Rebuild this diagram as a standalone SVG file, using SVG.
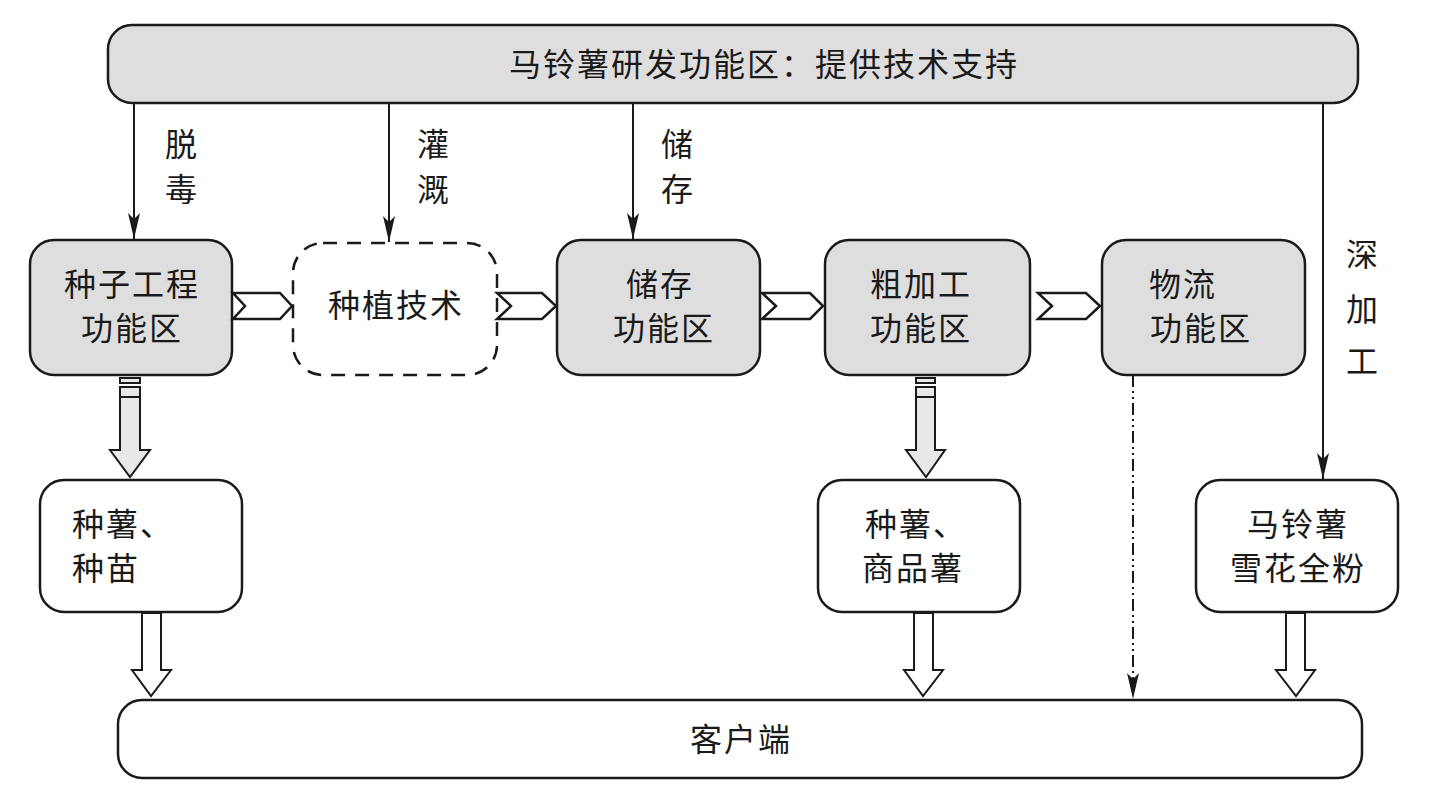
<svg xmlns="http://www.w3.org/2000/svg" width="1429" height="810" viewBox="0 0 1429 810">
<defs>
<style>
.g{fill:#dedede;stroke:#1a1a1a;stroke-width:2.5}
.w{fill:#fff;stroke:#1a1a1a;stroke-width:2.5}
.d{fill:#fff;stroke:#1a1a1a;stroke-width:2.5;stroke-dasharray:14 10}
.t{font-family:"Noto Sans CJK SC","Noto Sans CJK JP",sans-serif;font-size:32px;letter-spacing:2px;fill:#1a1a1a;text-anchor:middle}
.s{text-anchor:start}
.ln{stroke:#1a1a1a;stroke-width:2;fill:none}
.ch{fill:#fff;stroke:#1a1a1a;stroke-width:2.5;stroke-linejoin:miter}
.ha{fill:#e8e8e8;stroke:#1a1a1a;stroke-width:2}
.hw{fill:#fff;stroke:#1a1a1a;stroke-width:2}
</style>
<marker id="ar" viewBox="0 0 26 12" refX="26" refY="6" markerWidth="26" markerHeight="12" markerUnits="userSpaceOnUse" orient="auto">
<path d="M0,0 L6,6 L0,12 L26,6 Z" fill="#1a1a1a"/>
</marker>
</defs>
<rect width="1429" height="810" fill="#fff"/>

<g id="top">
<rect class="g" x="108" y="25" width="1250" height="78" rx="24"/>
<text class="t" x="764" y="76">马铃薯研发功能区：提供技术支持</text>
</g>

<g id="n1">
<rect class="g" x="30" y="240" width="202" height="135" rx="24"/>
<text class="t" x="132" y="296">种子工程</text>
<text class="t" x="132" y="340">功能区</text>
</g>
<g id="n2">
<rect class="d" x="293" y="243" width="204" height="132" rx="30"/>
<text class="t" x="396" y="317">种植技术</text>
</g>
<g id="n3">
<rect class="g" x="557" y="240" width="203" height="135" rx="24"/>
<text class="t" x="660" y="296">储存</text>
<text class="t" x="664" y="340">功能区</text>
</g>
<g id="n4">
<rect class="g" x="825" y="240" width="205" height="135" rx="24"/>
<text class="t s" x="870" y="296">粗加工</text>
<text class="t s" x="870" y="340">功能区</text>
</g>
<g id="n5">
<rect class="g" x="1102" y="240" width="203" height="135" rx="24"/>
<text class="t s" x="1149" y="296">物流</text>
<text class="t s" x="1150" y="340">功能区</text>
</g>

<g id="b1">
<rect class="w" x="40" y="480" width="202" height="132" rx="24"/>
<text class="t s" x="72" y="536">种薯、</text>
<text class="t s" x="72" y="580">种苗</text>
</g>
<g id="b2">
<rect class="w" x="818" y="480" width="202" height="132" rx="24"/>
<text class="t s" x="865" y="536">种薯、</text>
<text class="t s" x="862" y="580">商品薯</text>
</g>
<g id="b3">
<rect class="w" x="1196" y="480" width="202" height="132" rx="24"/>
<text class="t" x="1298" y="536">马铃薯</text>
<text class="t" x="1298" y="580">雪花全粉</text>
</g>

<g id="client">
<rect class="w" x="118" y="700" width="1244" height="78" rx="24"/>
<text class="t" x="741" y="751">客户端</text>
</g>

<g id="connectors">
<line class="ln" x1="134" y1="103" x2="134" y2="239" marker-end="url(#ar)"/>
<line class="ln" x1="389" y1="103" x2="389" y2="242" marker-end="url(#ar)"/>
<line class="ln" x1="633" y1="103" x2="633" y2="239" marker-end="url(#ar)"/>
<line class="ln" x1="1323" y1="103" x2="1323" y2="479" marker-end="url(#ar)"/>
<line class="ln" x1="1133" y1="375" x2="1133" y2="699" stroke-dasharray="12 4 2 4 2 4" marker-end="url(#ar)"/>

<path class="ch" d="M233,293 L280,293 L292,306 L280,319 L233,319 L245,306 Z"/>
<path class="ch" d="M497,293 L542,293 L556,306 L542,319 L497,319 L511,306 Z"/>
<path class="ch" d="M762,293 L810,293 L823,306 L810,319 L762,319 L776,306 Z"/>
<path class="ch" d="M1038,293 L1086,293 L1100,306 L1086,319 L1038,319 L1052,306 Z"/>

<path class="ha" d="M120,397 L140,397 L140,450 L150,450 L130,477 L110,450 L120,450 Z"/>
<rect class="ha" x="120" y="378" width="20" height="5"/>
<rect class="ha" x="120" y="387" width="20" height="10"/>
<path class="ha" d="M916,397 L935,397 L935,450 L945,450 L926,477 L906,450 L916,450 Z"/>
<rect class="ha" x="916" y="378" width="19" height="5"/>
<rect class="ha" x="916" y="387" width="19" height="10"/>

<path class="hw" d="M142,613 L161,613 L161,670 L171,670 L151,696 L132,670 L142,670 Z"/>
<path class="hw" d="M914,613 L933,613 L933,670 L943,670 L923,696 L904,670 L914,670 Z"/>
<path class="hw" d="M1286,613 L1305,613 L1305,670 L1315,670 L1296,696 L1276,670 L1286,670 Z"/>
</g>

<g id="labels">
<text class="t" x="182" y="156">脱</text>
<text class="t" x="182" y="201">毒</text>
<text class="t" x="434" y="156">灌</text>
<text class="t" x="434" y="201">溉</text>
<text class="t" x="678" y="156">储</text>
<text class="t" x="678" y="201">存</text>
<text class="t" x="1363" y="266">深</text>
<text class="t" x="1363" y="321">加</text>
<text class="t" x="1363" y="373">工</text>
</g>
</svg>
